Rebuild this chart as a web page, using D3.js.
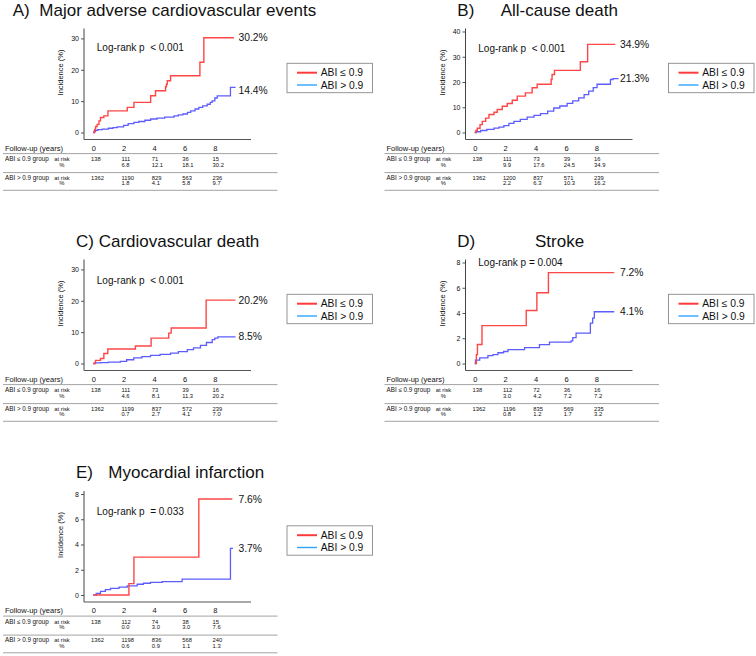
<!DOCTYPE html>
<html>
<head>
<meta charset="utf-8">
<script src="https://cdn.jsdelivr.net/npm/d3@7"></script>
<style>
  body { margin: 0; background: #fff; }
  svg text { font-family: "Liberation Sans", Arial, sans-serif; fill: #111; }
</style>
</head>
<body>
<div id="chart"></div>
<script>
// cumulative incidence steps [years, %]
var maceLow = [[0,0],[0.1,1.0],[0.16,1.9],[0.26,2.6],[0.38,3.7],[0.48,4.8],[0.7,5.3],[0.97,6.9],[2.24,8.0],[2.68,9.6],[3.78,11.7],[4.1,13.3],[4.76,14.6],[4.82,15.4],[4.87,16.5],[5.09,18.1],[7.02,22.4],[7.28,30.2],[9.26,30.2]];
var maceHigh = [[0,0],[0.05,0.4],[0.15,0.7],[0.3,0.9],[0.6,1.1],[1.0,1.35],[1.3,1.55],[1.58,1.8],[2.0,2.3],[2.3,2.8],[2.68,3.2],[3.0,3.5],[3.4,3.9],[3.78,4.3],[4.2,4.6],[4.7,4.9],[5.32,5.3],[5.6,5.6],[5.9,5.9],[6.2,6.4],[6.41,6.9],[6.7,7.5],[6.95,8.0],[7.2,8.5],[7.5,9.0],[7.7,9.6],[7.83,10.1],[8.0,11.0],[8.16,11.7],[9.03,14.4],[9.37,14.4]];
var deathLow = [[0,0],[0.08,0.8],[0.17,1.7],[0.35,3.1],[0.5,4.4],[0.72,5.7],[0.94,7.1],[1.27,8.0],[1.48,9.1],[1.81,10.4],[2.14,11.5],[2.47,12.8],[2.8,14.4],[3.34,15.7],[3.78,17.7],[4.11,19.1],[5.03,21.0],[5.09,23.0],[5.25,24.6],[6.95,28.0],[7.43,34.9],[9.25,34.9]];
var deathHigh = [[0,0],[0.1,0.3],[0.39,0.8],[0.8,1.2],[1.27,1.7],[1.6,2.1],[1.92,2.7],[2.25,3.6],[2.58,4.4],[3.0,5.2],[3.45,6.1],[3.9,6.8],[4.33,7.5],[4.8,8.5],[5.2,9.7],[5.6,10.5],[6.08,11.5],[6.45,12.5],[6.84,13.7],[7.2,15.0],[7.5,16.4],[7.8,17.8],[8.05,19.1],[8.93,21.0],[9.1,21.3],[9.46,21.3]];
var cvdLow = [[0,0],[0.15,1.0],[0.48,1.6],[0.7,3.2],[0.96,4.6],[2.78,5.6],[3.81,8.1],[4.97,9.7],[5.13,11.3],[7.43,20.2],[9.36,20.2]];
var cvdHigh = [[0,0],[0.1,0.2],[0.48,0.3],[1.0,0.45],[1.79,0.7],[2.2,1.2],[2.67,1.8],[3.2,2.2],[3.77,2.6],[4.4,2.9],[5.09,3.3],[5.6,3.8],[6.19,4.4],[6.6,5.0],[7.06,5.8],[7.45,6.7],[7.83,7.6],[8.0,8.1],[8.2,8.5],[9.36,8.5]];
var strokeLow = [[0,0],[0.11,0.7],[0.18,1.5],[0.48,3.0],[3.39,4.2],[4.09,5.6],[4.85,7.2],[9.18,7.2]];
var strokeHigh = [[0,0],[0.05,0.26],[0.33,0.45],[0.87,0.62],[1.2,0.7],[1.53,0.85],[1.9,0.95],[2.19,1.1],[3.28,1.25],[4.26,1.5],[4.92,1.7],[6.34,1.8],[6.45,2.05],[6.67,2.4],[7.61,3.2],[7.76,3.6],[7.87,4.1],[9.18,4.1]];
var miLow = [[0,0],[2.35,0.9],[2.68,3.0],[6.95,7.6],[9.15,7.6]];
var miHigh = [[0,0],[0.2,0.12],[0.48,0.29],[0.8,0.42],[1.14,0.53],[1.7,0.62],[2.24,0.72],[2.89,0.85],[3.3,0.93],[3.77,1.0],[4.54,1.06],[5.85,1.25],[9.03,3.7],[9.2,3.7]];

var yearTicks = [0, 2, 4, 6, 8];
var groupNames = ["ABI \u2264 0.9", "ABI > 0.9"];
var rowNames = ["ABI \u2264 0.9 group", "ABI > 0.9 group"];

// numbers at risk / % per panel
var maceRisk = [["138","111","71","36","15"], ["1362","1190","829","563","236"]];
var macePct = [["","6.8","12.1","18.1","30.2"], ["","1.8","4.1","5.8","9.7"]];
var deathRisk = [["138","111","73","39","16"], ["1362","1200","837","571","239"]];
var deathPct = [["","9.9","17.6","24.5","34.9"], ["","2.2","6.3","10.3","16.2"]];
var cvdRisk = [["138","111","73","39","16"], ["1362","1199","837","572","239"]];
var cvdPct = [["","4.6","8.1","11.3","20.2"], ["","0.7","2.7","4.1","7.0"]];
var strokeRisk = [["138","112","72","36","16"], ["1362","1196","835","569","235"]];
var strokePct = [["","3.0","4.2","7.2","7.2"], ["","0.8","1.2","1.7","3.2"]];
var miRisk = [["138","112","74","38","15"], ["1362","1198","836","568","240"]];
var miPct = [["","0.0","3.0","3.0","7.6"], ["","0.6","0.9","1.1","1.3"]];

var panels = [
  { tag: "A)", title: "Major adverse cardiovascular events", titleX: 39.3, tagX: 12.7, ox: 0, oy: 0,
    yMax: 32.2, yTicks: [0,10,20,30], p: "Log-rank p  < 0.001", pY: 51,
    low: maceLow, high: maceHigh, lowLab: "30.2%", highLab: "14.4%", highDy: 3, risk: maceRisk, pct: macePct },
  { tag: "B)", title: "All-cause death", titleX: 119.2, tagX: 75.8, ox: 381.5, oy: 0,
    yMax: 40, yTicks: [0,10,20,30,40], p: "Log-rank p  < 0.001", pY: 52,
    low: deathLow, high: deathHigh, lowLab: "34.9%", highLab: "21.3%", highDy: 0, risk: deathRisk, pct: deathPct },
  { tag: "C)", title: "Cardiovascular death", titleX: 98.5, tagX: 76, ox: 0, oy: 231,
    yMax: 32.2, yTicks: [0,10,20,30], p: "Log-rank p  < 0.001", pY: 52.5,
    low: cvdLow, high: cvdHigh, lowLab: "20.2%", highLab: "8.5%", highDy: 0, risk: cvdRisk, pct: cvdPct },
  { tag: "D)", title: "Stroke", titleX: 153.5, tagX: 75.8, ox: 381.5, oy: 231,
    yMax: 8, yTicks: [0,2,4,6,8], p: "Log-rank p = 0.004", pY: 35,
    low: strokeLow, high: strokeHigh, lowLab: "7.2%", highLab: "4.1%", highDy: 0, risk: strokeRisk, pct: strokePct },
  { tag: "E)", title: "Myocardial infarction", titleX: 108.3, tagX: 76, ox: 0, oy: 462.5,
    yMax: 8, yTicks: [0,2,4,6,8], p: "Log-rank p  = 0.033", pY: 52,
    low: miLow, high: miHigh, lowLab: "7.6%", highLab: "3.7%", highDy: 0, risk: miRisk, pct: miPct }
];

var red = "#ff4646", blue = "#5c5cff", legendBlue = "#2fa4ff";

var svg = d3.select("#chart").append("svg")
  .attr("width", 756).attr("height", 656);

function drawPanel(d) {
  var g = svg.append("g").attr("transform", "translate(" + d.ox + "," + d.oy + ")");

  var x = d3.scaleLinear().domain([0, 8]).range([93.2, 93.2 + 8 * 15.2]);
  var y = d3.scaleLinear().domain([0, d.yMax]).range([132.5, 31.5]);

  // title
  if (d.tag === "C)") {
    g.append("text").attr("x", d.tagX).attr("y", 15.5).style("font-size", "17px").text(d.tag + " " + d.title);
  } else {
    g.append("text").attr("x", d.tagX).attr("y", 15.5).style("font-size", "17px").text(d.tag);
    g.append("text").attr("x", d.titleX).attr("y", 15.5).style("font-size", "17px").text(d.title);
  }

  // axes
  var yAxis = d3.axisLeft(y).tickValues(d.yTicks).tickSize(3).tickPadding(2);
  var ya = g.append("g").attr("transform", "translate(84,0)").call(yAxis);
  ya.select(".domain").remove();
  ya.selectAll("line").attr("stroke", "#555");
  ya.selectAll("text").style("font-size", "7px").style("font-family", "Liberation Sans, Arial, sans-serif").attr("fill", "#222");

  g.append("line").attr("x1", 84).attr("x2", 84).attr("y1", 28.5).attr("y2", 139.5)
    .attr("stroke", "#444").attr("stroke-width", 1);
  g.append("line").attr("x1", 84).attr("x2", 251).attr("y1", 139.5).attr("y2", 139.5)
    .attr("stroke", "#555").attr("stroke-width", 1.2);

  g.append("text").attr("transform", "translate(63,72.5) rotate(-90)")
    .attr("text-anchor", "middle").style("font-size", "7.5px").attr("fill", "#333")
    .text("Incidence (%)");

  g.append("text").attr("x", 96.8).attr("y", d.pY).style("font-size", "10px")
    .style("white-space", "pre").text(d.p);

  // curves
  var line = d3.line()
    .x(function (p) { return x(p[0]); })
    .y(function (p) { return y(p[1]); })
    .curve(d3.curveStepAfter);

  g.append("path").datum(d.high).attr("d", line).attr("fill", "none")
    .attr("stroke", blue).attr("stroke-width", 1.3);
  g.append("path").datum(d.low).attr("d", line).attr("fill", "none")
    .attr("stroke", red).attr("stroke-width", 1.4);

  var lastLow = d.low[d.low.length - 1][1];
  var lastHigh = d.high[d.high.length - 1][1];
  g.append("text").attr("x", 238.5).attr("y", y(lastLow) + 3.6).style("font-size", "10.3px").text(d.lowLab);
  g.append("text").attr("x", 238.5).attr("y", y(lastHigh) + 3.6 + d.highDy).style("font-size", "10.3px").text(d.highLab);

  // legend
  var lg = g.append("g");
  lg.append("rect").attr("x", 287).attr("y", 63.3).attr("width", 85.5).attr("height", 29.4)
    .attr("fill", "#fff").attr("stroke", "#8a8a8a").attr("stroke-width", 0.9);
  lg.append("line").attr("x1", 297).attr("x2", 317).attr("y1", 72.7).attr("y2", 72.7)
    .attr("stroke", "#ff3c3c").attr("stroke-width", 2);
  lg.append("line").attr("x1", 297).attr("x2", 317).attr("y1", 85).attr("y2", 85)
    .attr("stroke", legendBlue).attr("stroke-width", 1.4);
  lg.selectAll("text.leg").data(groupNames).enter().append("text")
    .attr("x", 320.7).attr("y", function (n, i) { return i === 0 ? 76.3 : 88.6; })
    .style("font-size", "10.3px").text(function (n) { return n; });

  // risk table
  var tb = g.append("g");
  tb.append("text").attr("x", 5).attr("y", 150.5).style("font-size", "7.5px").attr("fill", "#222").text("Follow-up (years)");
  tb.selectAll("text.yr").data(yearTicks).enter().append("text")
    .attr("x", function (t) { return x(t) + 0.6; }).attr("y", 150.5)
    .attr("text-anchor", "middle").style("font-size", "7.5px").attr("fill", "#222")
    .text(function (t) { return t; });

  [153.6, 172.6, 190.3].forEach(function (ly) {
    tb.append("line").attr("x1", 3).attr("x2", 277.5).attr("y1", ly).attr("y2", ly)
      .attr("stroke", "#8c8c8c").attr("stroke-width", 0.8);
  });

  rowNames.forEach(function (rn, r) {
    var by = r === 0 ? 161.2 : 179.6;
    tb.append("text").attr("x", 5).attr("y", by).style("font-size", "6.3px").attr("fill", "#222").text(rn);
    tb.append("text").attr("x", 54.3).attr("y", by).style("font-size", "5.8px").attr("fill", "#333").text("at risk");
    tb.append("text").attr("x", 59.3).attr("y", by + 5.6).style("font-size", "5.8px").attr("fill", "#333").text("%");
    tb.selectAll("text.r" + r).data(d.risk[r]).enter().append("text")
      .attr("x", function (v, i) { return x(yearTicks[i]) - 2.2; }).attr("y", by)
      .style("font-size", "5.8px").attr("fill", "#333").text(function (v) { return v; });
    tb.selectAll("text.p" + r).data(d.pct[r]).enter().append("text")
      .attr("x", function (v, i) { return x(yearTicks[i]) - 2.2; }).attr("y", by + 5.6)
      .style("font-size", "5.8px").attr("fill", "#333").text(function (v) { return v; });
  });
}

panels.forEach(drawPanel);
</script>
</body>
</html>
